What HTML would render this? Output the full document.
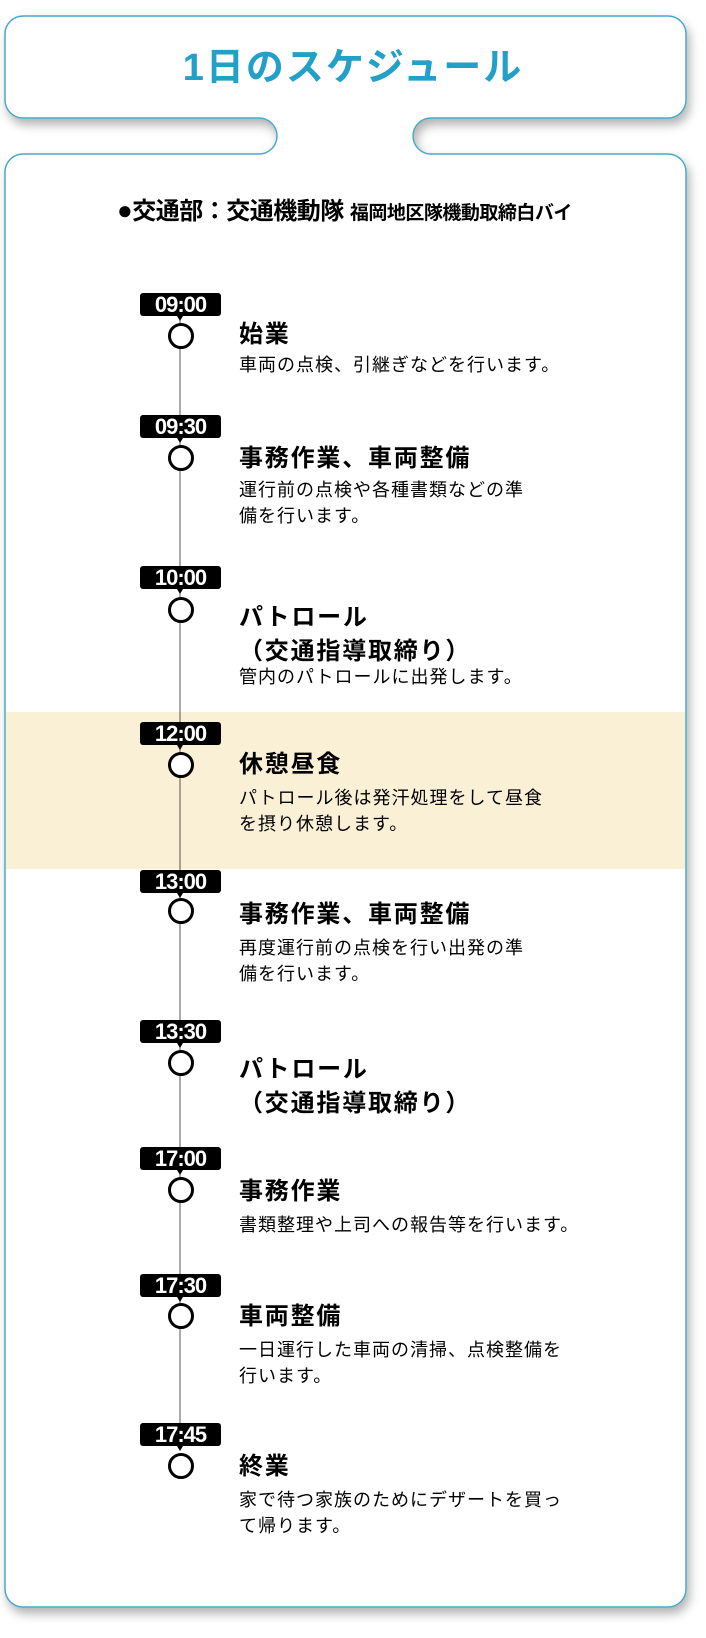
<!DOCTYPE html>
<html><head><meta charset="utf-8"><style>
body{margin:0;width:706px;height:1638px;background:#fff;position:relative;overflow:hidden;font-family:"Liberation Sans","Noto Sans CJK JP",sans-serif;}
.a{position:absolute;white-space:nowrap;}
.tl{position:absolute;left:140px;width:81px;height:23px;background:#000;color:#fff;border-radius:3px;font-weight:bold;font-size:22px;line-height:23px;text-align:center;letter-spacing:-1px;}
.tl:after{content:"";position:absolute;left:37px;bottom:-5px;border-left:3px solid transparent;border-right:3px solid transparent;border-top:5px solid #000;}
.c{position:absolute;left:168px;width:20px;height:20px;border:3px solid #000;border-radius:50%;background:#fff;}
.t{position:absolute;left:239px;font-weight:bold;font-size:24px;line-height:24px;letter-spacing:1.8px;color:#000;white-space:nowrap;}
.b{position:absolute;left:239px;font-size:18px;line-height:26px;letter-spacing:1px;color:#000;white-space:nowrap;}
</style></head><body>
<svg width="706" height="1638" style="position:absolute;left:0;top:0">
<defs><filter id="sh" x="-5%" y="-5%" width="115%" height="115%"><feDropShadow dx="3" dy="6" stdDeviation="5" flood-color="#000" flood-opacity="0.3"/></filter></defs>
<path filter="url(#sh)" fill="#fff" stroke="#4aa8c8" stroke-width="1.5" d="M23,16 H668 A18,18 0 0 1 686,34 V100 A18,18 0 0 1 668,118 H431 A18,18 0 0 0 431,154 H668 A18,18 0 0 1 686,172 V1589 A18,18 0 0 1 668,1607 H23 A18,18 0 0 1 5,1589 V172 A18,18 0 0 1 23,154 H259 A18,18 0 0 0 259,118 H23 A18,18 0 0 1 5,100 V34 A18,18 0 0 1 23,16 Z"/>
<rect x="6" y="712" width="679" height="157" fill="#faf0d5"/>
<line x1="180" y1="300" x2="180" y2="1440" stroke="#555" stroke-width="1"/>
</svg>
<div class="a" style="left:0;width:706px;text-align:center;top:46px;font-size:38px;line-height:44px;font-weight:bold;color:#23a0c8;letter-spacing:2px;">1日のスケジュール</div>
<div class="a" style="left:117px;top:195px;font-weight:bold;font-size:24px;line-height:30px;letter-spacing:-0.5px;"><span style="font-size:26px">●</span>交通部：交通機動隊 <span style="font-size:19px;">福岡地区隊機動取締白バイ</span></div>

<div class="tl" style="top:293px">09:00</div><div class="c" style="top:323px"></div>
<div class="t" style="top:323px">始業</div>
<div class="b" style="top:352px">車両の点検、引継ぎなどを行います。</div>

<div class="tl" style="top:415px">09:30</div><div class="c" style="top:445px"></div>
<div class="t" style="top:447px">事務作業、車両整備</div>
<div class="b" style="top:477px">運行前の点検や各種書類などの準<br>備を行います。</div>

<div class="tl" style="top:566px">10:00</div><div class="c" style="top:597px"></div>
<div class="t" style="top:601px;line-height:34px;">パトロール<br>（交通指導取締り）</div>
<div class="b" style="top:664px">管内のパトロールに出発します。</div>

<div class="tl" style="top:722px">12:00</div><div class="c" style="top:752px"></div>
<div class="t" style="top:753px">休憩昼食</div>
<div class="b" style="top:785px">パトロール後は発汗処理をして昼食<br>を摂り休憩します。</div>

<div class="tl" style="top:870px">13:00</div><div class="c" style="top:898px"></div>
<div class="t" style="top:903px">事務作業、車両整備</div>
<div class="b" style="top:935px">再度運行前の点検を行い出発の準<br>備を行います。</div>

<div class="tl" style="top:1020px">13:30</div><div class="c" style="top:1050px"></div>
<div class="t" style="top:1053px;line-height:34px;">パトロール<br>（交通指導取締り）</div>

<div class="tl" style="top:1147px">17:00</div><div class="c" style="top:1177px"></div>
<div class="t" style="top:1180px">事務作業</div>
<div class="b" style="top:1212px">書類整理や上司への報告等を行います。</div>

<div class="tl" style="top:1274px">17:30</div><div class="c" style="top:1303px"></div>
<div class="t" style="top:1305px">車両整備</div>
<div class="b" style="top:1337px">一日運行した車両の清掃、点検整備を<br>行います。</div>

<div class="tl" style="top:1423px">17:45</div><div class="c" style="top:1453px"></div>
<div class="t" style="top:1455px">終業</div>
<div class="b" style="top:1487px">家で待つ家族のためにデザートを買っ<br>て帰ります。</div>
</body></html>
